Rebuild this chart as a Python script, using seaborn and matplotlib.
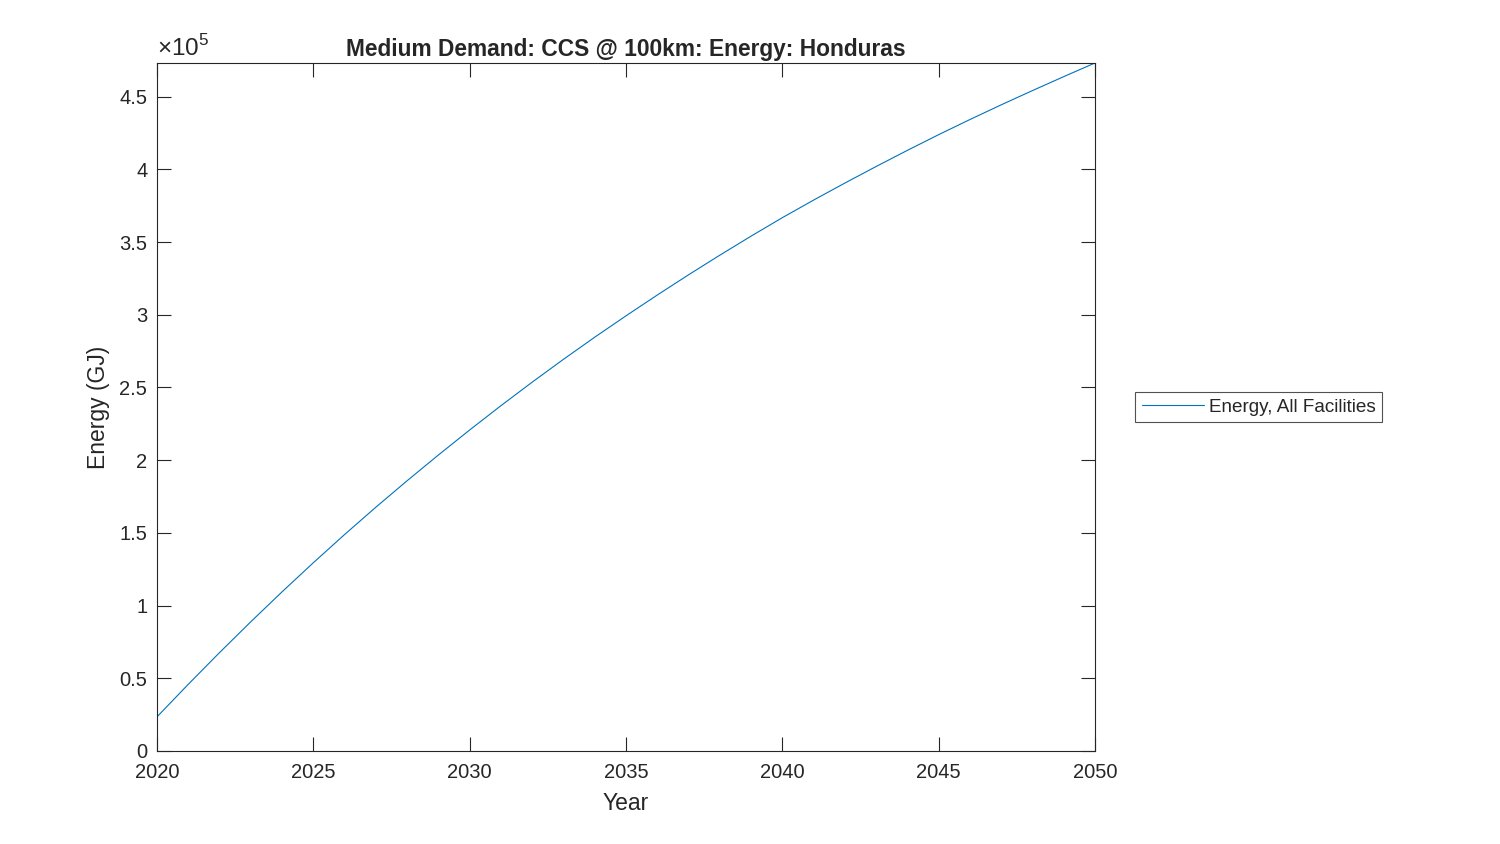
import numpy as np
import pandas as pd
import matplotlib
matplotlib.use("Agg")
import matplotlib.pyplot as plt
import seaborn as sns
from matplotlib.ticker import FuncFormatter, MultipleLocator

years = list(range(2020, 2051))
# energy in units of 1e5 GJ
energy_e5 = [
    0.235, 0.459, 0.677, 0.889, 1.095, 1.295, 1.489, 1.677, 1.859, 2.036,
    2.208, 2.375, 2.537, 2.694, 2.846, 2.993, 3.136, 3.275, 3.410, 3.541,
    3.668, 3.789, 3.906, 4.020, 4.131, 4.239, 4.343, 4.444, 4.542, 4.638,
    4.732,
]
series_name = "Energy, All Facilities"
title = "Medium Demand: CCS @ 100km: Energy: Honduras"

df = pd.DataFrame({"Year": years, "Energy": np.array(energy_e5) * 1e5})

sns.set_style("white")
plt.rcParams["font.family"] = ["Liberation Sans", "DejaVu Sans"]
plt.rcParams["mathtext.fontset"] = "custom"
plt.rcParams["mathtext.rm"] = "Liberation Sans"

fig = plt.figure(figsize=(15, 8.44), dpi=100)
ax = fig.add_axes([0.1047, 0.1102, 0.6253, 0.8152])

sns.lineplot(data=df, x="Year", y="Energy", ax=ax, color="#0072BD",
             linewidth=0.8, label=series_name)

ax.set_xlim(2020, 2050)
ax.set_ylim(0, df["Energy"].max())
ax.xaxis.set_major_locator(MultipleLocator(5))
ax.yaxis.set_major_locator(MultipleLocator(0.5e5))
ax.yaxis.set_major_formatter(FuncFormatter(lambda v, p: f"{v / 1e5:g}"))

ax.tick_params(direction="in", length=10, width=0.8, colors="#262626",
               labelsize=14.5, bottom=True, left=True, top=True, right=True)
ax.tick_params(axis="x", pad=9)
ax.tick_params(axis="y", pad=7)
for s in ax.spines.values():
    s.set_color("#262626")
    s.set_linewidth(0.8)

ax.set_xlabel("Year", fontsize=16.5, color="#262626", labelpad=7)
ax.set_ylabel("Energy (GJ)", fontsize=16.5, color="#262626", labelpad=7)
ax.set_title(title, fontsize=16.4, fontweight="bold", pad=5)
ax.text(0.0, 1.003, r"$\times10^{5}$", transform=ax.transAxes, fontsize=17.5,
        color="#262626", ha="left", va="bottom")

leg = ax.legend(loc="center left", bbox_to_anchor=(1.033, 0.5), fontsize=13.6,
                frameon=True, fancybox=False, edgecolor="#262626",
                handlelength=3.3, borderpad=0.35, handletextpad=0.25)
leg.get_frame().set_linewidth(0.8)

fig.savefig("out.png", dpi=100, facecolor="white")
